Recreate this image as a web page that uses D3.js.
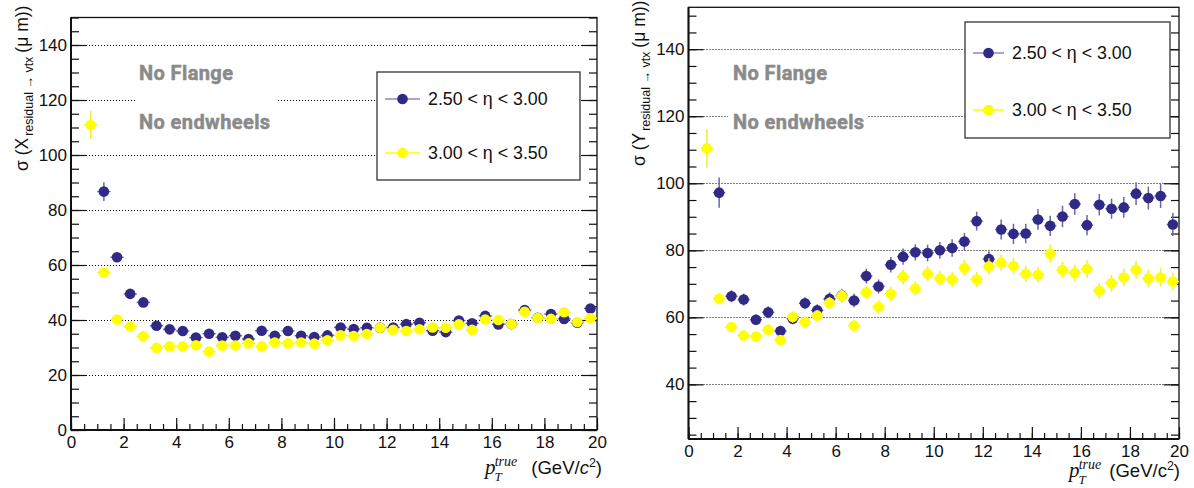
<!DOCTYPE html>
<html><head><meta charset="utf-8">
<script src="https://cdn.jsdelivr.net/npm/d3@7"></script>
<style>body{margin:0;background:#fff}svg{display:block}</style>
</head><body>
<svg id="c" width="1194" height="488"></svg>
<script>
const pT = [0.75,1.25,1.75,2.25,2.75,3.25,3.75,4.25,4.75,5.25,5.75,6.25,6.75,7.25,7.75,8.25,8.75,9.25,9.75,10.25,10.75,11.25,11.75,12.25,12.75,13.25,13.75,14.25,14.75,15.25,15.75,16.25,16.75,17.25,17.75,18.25,18.75,19.25,19.75];
const binHalfWidth = 0.25;

const leftBlue = [null,86.7,62.8,49.5,46.4,37.9,36.6,36.0,33.6,35.0,33.7,34.3,33.1,36.1,34.3,36.0,34.3,33.8,34.4,37.3,36.7,37.2,37.2,37.3,38.5,39.0,36.1,35.6,39.8,38.8,41.5,38.4,38.5,43.6,40.8,42.2,40.4,39.0,44.2];
const leftBlueErr = [null,3.4,1.3,1.1,1.0,0.9,0.9,0.9,0.9,0.9,0.9,0.9,0.9,1.0,1.0,1.0,1.0,1.0,1.0,1.1,1.1,1.1,1.1,1.1,1.2,1.2,1.2,1.2,1.3,1.3,1.3,1.3,1.3,1.4,1.4,1.4,1.4,1.4,1.5];
const leftYellow = [110.9,57.3,40.2,37.6,34.1,29.9,30.4,30.4,30.8,28.5,30.7,30.7,31.5,30.4,31.8,31.5,31.8,31.4,32.6,34.4,34.2,34.9,37.2,36.4,36.0,36.6,37.3,37.2,38.4,36.4,40.2,40.0,38.5,43.0,40.7,40.4,42.8,39.3,40.6];
const leftYellowErr = [5.2,1.2,0.9,0.8,0.8,0.7,0.7,0.7,0.7,0.7,0.7,0.7,0.8,0.8,0.8,0.8,0.8,0.8,0.9,0.9,0.9,0.9,1.0,1.0,1.0,1.0,1.0,1.0,1.1,1.1,1.1,1.1,1.1,1.2,1.2,1.2,1.2,1.2,1.2];

const rightBlue = [null,97.2,66.3,65.3,59.3,61.5,55.9,59.6,64.2,62.1,65.5,66.5,65.0,72.3,69.2,75.7,78.1,79.4,79.2,80.0,80.7,82.6,88.7,77.4,86.2,84.9,85.0,89.2,87.3,90.1,93.8,87.5,93.6,92.4,92.8,96.9,95.6,96.2,87.7];
const rightBlueErr = [null,4.5,1.8,1.8,1.6,1.8,1.6,1.7,1.8,1.8,1.9,2.0,2.0,2.2,2.1,2.3,2.4,2.4,2.5,2.5,2.6,2.6,2.8,2.3,3.0,3.0,2.9,3.1,3.0,3.2,3.2,3.0,3.2,3.0,3.1,3.4,3.4,3.6,3.4];
const rightYellow = [110.4,65.6,57.1,54.6,54.3,56.3,53.2,60.1,58.6,60.5,64.3,66.4,57.5,67.4,63.1,67.0,72.1,68.6,73.0,71.6,71.3,74.7,71.3,75.2,76.3,75.3,73.0,72.7,79.0,74.1,73.2,74.4,67.9,70.2,71.9,74.2,71.6,71.9,70.7];
const rightYellowErr = [5.7,1.6,1.5,1.5,1.5,1.6,1.5,1.7,1.7,1.7,1.8,1.9,1.8,2.0,2.0,2.1,2.2,2.1,2.3,2.2,2.3,2.4,2.3,2.4,2.5,2.5,2.4,2.4,2.7,2.5,2.5,2.6,2.4,2.5,2.6,2.7,2.6,2.7,2.6];

const legendLabels = ["2.50 < η < 3.00", "3.00 < η < 3.50"];
const noteLines = ["No Flange", "No endwheels"];
const xTickValues = [0,2,4,6,8,10,12,14,16,18,20];
const leftYTicks = [0,20,40,60,80,100,120,140];
const rightYTicks = [40,60,80,100,120,140];

const BLUE = "#312986", BLUE_ERR = "#6b64ad", BLUE_LEG = "#8c86c6";
const YEL = "#ffff00", YEL_ERR = "#eded3a";

const svg = d3.select("#c");
const FONT = "'Liberation Sans', Arial, Helvetica, sans-serif";
const SERIF = "'Liberation Serif', 'DejaVu Serif', serif";

function panel(o){
  const g = svg.append("g");
  const x = d3.scaleLinear().domain([0,20]).range([o.left, o.right]);
  const y = d3.scaleLinear().domain(o.yDomain).range([o.bottom, o.top]);
  const py = v => Math.round(y(v)) + 0.5;

  // grid
  g.append("g").selectAll("line").data(o.yTicks).join("line")
    .attr("x1", o.left).attr("x2", o.right)
    .attr("y1", d=>py(d)).attr("y2", d=>py(d))
    .attr("stroke","#000").attr("stroke-width",1).attr("stroke-dasharray","1,2");

  // note pave
  g.append("rect").attr("x", o.pave[0]).attr("y", o.pave[1]).attr("width", o.pave[2]).attr("height", o.pave[3]).attr("fill","#fff");
  g.selectAll("text.note").data(noteLines).join("text").attr("class","note")
    .attr("x", o.noteX).attr("y", (d,i)=> o.noteY[i])
    .attr("font-family","Roboto, 'Open Sans', sans-serif").attr("font-weight","700")
    .attr("font-size", 20).attr("fill","#8a8a8a").attr("stroke","#8a8a8a").attr("stroke-width",0.5)
    .attr("letter-spacing",0.4).text(d=>d);

  // axes
  const minorY = d3.range(Math.ceil(o.yDomain[0]/5)*5, o.yDomain[1]+0.01, 5);
  const minorX = d3.range(0, 20.01, 0.5);
  const yl = g.append("g").attr("transform",`translate(${o.left},0)`);
  yl.call(d3.axisLeft(y).tickValues(minorY).tickSize(-8).tickFormat(""));
  yl.append("g").call(d3.axisLeft(y).tickValues(o.yTicks).tickSize(-15).tickPadding(4).tickFormat(d3.format("d")));
  const yr = g.append("g").attr("transform",`translate(${o.right},0)`);
  yr.call(d3.axisRight(y).tickValues(minorY).tickSize(-8).tickFormat(""));
  yr.append("g").call(d3.axisRight(y).tickValues(o.yTicks).tickSize(-15).tickFormat(""));
  const xb = g.append("g").attr("transform",`translate(0,${o.bottom})`);
  xb.call(d3.axisBottom(x).tickValues(minorX).tickSize(-6).tickFormat(""));
  xb.append("g").call(d3.axisBottom(x).tickValues(xTickValues).tickSize(-12).tickPadding(6).tickFormat(d3.format("d")));
  g.selectAll(".domain").remove();
  g.selectAll(".tick line").attr("stroke","#111").attr("stroke-width",1.2);
  g.selectAll(".tick text").attr("font-family",FONT).attr("font-size",17).attr("fill","#111");

  // frame
  g.append("rect").attr("x",o.left).attr("y",o.top).attr("width",o.right-o.left).attr("height",o.bottom-o.top)
    .attr("fill","none").attr("stroke","#111").attr("stroke-width",1.3);
  g.append("line").attr("x1",o.left).attr("x2",o.left).attr("y1",o.top).attr("y2",o.bottom).attr("stroke","#111").attr("stroke-width",2);
  g.append("line").attr("x1",o.left).attr("x2",o.right).attr("y1",o.bottom).attr("y2",o.bottom).attr("stroke","#111").attr("stroke-width",2);

  // data
  function series(vals, errs, col, ecol){
    const pts = pT.map((p,i)=>({x:p, v:vals[i], e:errs[i]})).filter(d=>d.v!=null);
    const s = g.append("g");
    s.selectAll("line.ey").data(pts).join("line").attr("class","ey")
      .attr("x1",d=>x(d.x)).attr("x2",d=>x(d.x)).attr("y1",d=>y(d.v-d.e)).attr("y2",d=>y(d.v+d.e))
      .attr("stroke",ecol).attr("stroke-width",1.5);
    s.selectAll("line.ex").data(pts).join("line").attr("class","ex")
      .attr("x1",d=>x(d.x-binHalfWidth)).attr("x2",d=>x(d.x+binHalfWidth)).attr("y1",d=>y(d.v)).attr("y2",d=>y(d.v))
      .attr("stroke",ecol).attr("stroke-width",1.5);
    s.selectAll("circle").data(pts).join("circle")
      .attr("cx",d=>x(d.x)).attr("cy",d=>y(d.v)).attr("r",5.3).attr("fill",col);
  }
  series(o.blue, o.blueErr, BLUE, BLUE_ERR);
  series(o.yellow, o.yellowErr, YEL, YEL_ERR);

  // legend
  const L = o.legend;
  g.append("rect").attr("x",L.x).attr("y",L.y).attr("width",L.w).attr("height",L.h)
    .attr("fill","#fff").attr("stroke","#333").attr("stroke-width",1.3);
  const ents = [{c:BLUE,l:BLUE_LEG},{c:YEL,l:YEL}];
  ents.forEach((e,i)=>{
    const ey = L.rows[i];
    g.append("line").attr("x1",L.lx0).attr("x2",L.lx1).attr("y1",ey).attr("y2",ey).attr("stroke",e.l).attr("stroke-width",1.5);
    g.append("circle").attr("cx",(L.lx0+L.lx1)/2).attr("cy",ey).attr("r",5.3).attr("fill",e.c);
    g.append("text").attr("x",L.tx).attr("y",ey+6).attr("font-family",FONT).attr("font-size",17.8).attr("fill","#111").text(legendLabels[i]);
  });

  // y title
  const yt = svg.append("text").attr("transform",`translate(${o.ytX},${o.ytY}) rotate(-90)`)
    .attr("font-family",FONT).attr("font-size",17.5).attr("fill","#111");
  yt.append("tspan").text("σ (" + o.ytVar);
  yt.append("tspan").attr("font-size",12.5).attr("dy",5).attr("dx",2).text("residual → vtx");
  yt.append("tspan").attr("dy",-5).attr("dx",4).text("(μ m))");

  // x title
  const tt = o.xt;
  const pt = svg.append("text").attr("x",tt.px).attr("y",tt.by).attr("font-family",SERIF)
    .attr("font-style","italic").attr("fill","#111");
  pt.append("tspan").attr("font-size",21).text("p");
  pt.append("tspan").attr("font-size",13).attr("dx",-1).attr("dy",7).text("T");
  pt.append("tspan").attr("font-size",14).attr("dx",-7).attr("dy",-15).text("true");
  const gt = svg.append("text").attr("x",tt.end).attr("y",tt.by).attr("text-anchor","end")
    .attr("font-family",FONT).attr("font-size",18.5).attr("fill","#111");
  gt.append("tspan").text("(GeV/");
  gt.append("tspan").attr("font-style", tt.italicC ? "italic" : "normal").text("c");
  gt.append("tspan").attr("font-size",12.5).attr("dy",-7).text("2");
  gt.append("tspan").attr("dy",7).text(")");
}

panel({
  left:71, right:597, top:17.5, bottom:430, yDomain:[0,150], yTicks:leftYTicks,
  blue:leftBlue, blueErr:leftBlueErr, yellow:leftYellow, yellowErr:leftYellowErr,
  pave:[137,56,139,84], noteX:139, noteY:[80,128.5],
  legend:{x:377,y:72,w:203,h:108,rows:[99,153],lx0:385,lx1:420,tx:428},
  ytX:28, ytY:171, ytVar:"X",
  xt:{px:485, by:474, end:602, italicC:true}
});
panel({
  left:688.5, right:1179, top:7.3, bottom:439, yDomain:[23.7,152.5], yTicks:rightYTicks,
  blue:rightBlue, blueErr:rightBlueErr, yellow:rightYellow, yellowErr:rightYellowErr,
  pave:[728,56,139,84], noteX:733, noteY:[80,128.5],
  legend:{x:965,y:22,w:205,h:116,rows:[53,110],lx0:973,lx1:1004,tx:1012},
  ytX:645, ytY:166, ytVar:"Y",
  xt:{px:1069, by:477, end:1180, italicC:false}
});
</script>
</body></html>
